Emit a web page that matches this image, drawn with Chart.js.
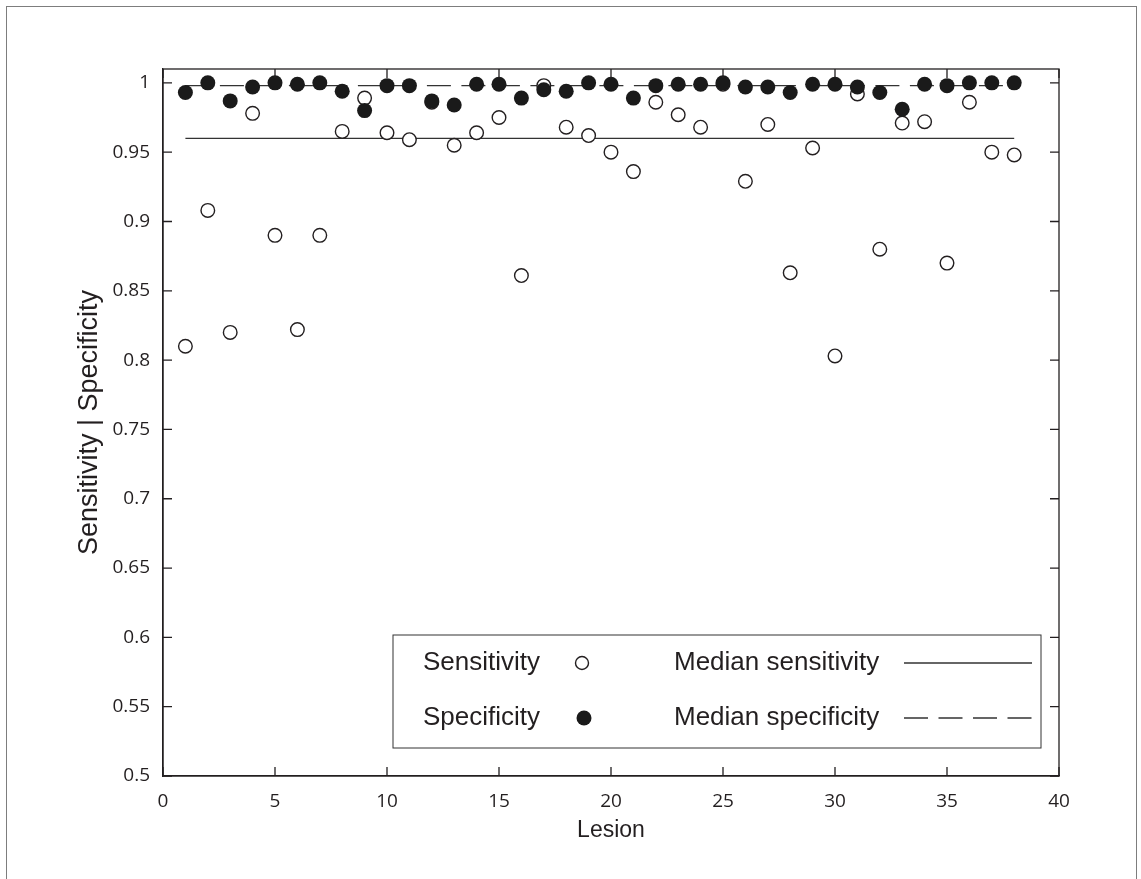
<!DOCTYPE html>
<html>
<head>
<meta charset="utf-8">
<title>Sensitivity and specificity per lesion</title>
<script src="https://cdn.jsdelivr.net/npm/chart.js@4.4.1/dist/chart.umd.min.js"></script>
<style>
  html, body { margin: 0; padding: 0; background: #fff; overflow: hidden; }
  #wrap { position: relative; width: 1141px; height: 879px; }
  #frame { position: absolute; left: 6px; top: 6px; width: 1131px; height: 900px;
           border: 1.5px solid #7d7d7d; box-sizing: border-box; pointer-events: none; }
</style>
</head>
<body>
<div id="wrap">
  <canvas id="lesionChart"></canvas>
  <div id="frame"></div>
</div>
<script>
// values
const lesions = [1, 2, 3, 4, 5, 6, 7, 8, 9, 10, 11, 12, 13, 14, 15, 16, 17, 18, 19,
                 20, 21, 22, 23, 24, 25, 26, 27, 28, 29, 30, 31, 32, 33, 34, 35, 36, 37, 38];
const sensitivity = [0.810, 0.908, 0.820, 0.978, 0.890, 0.822, 0.890, 0.965, 0.989, 0.964,
                     0.959, 0.986, 0.955, 0.964, 0.975, 0.861, 0.998, 0.968, 0.962, 0.950,
                     0.936, 0.986, 0.977, 0.968, 0.999, 0.929, 0.970, 0.863, 0.953, 0.803,
                     0.992, 0.880, 0.971, 0.972, 0.870, 0.986, 0.950, 0.948];
const specificity = [0.993, 1.000, 0.987, 0.997, 1.000, 0.999, 1.000, 0.994, 0.980, 0.998,
                     0.998, 0.987, 0.984, 0.999, 0.999, 0.989, 0.995, 0.994, 1.000, 0.999,
                     0.989, 0.998, 0.999, 0.999, 1.000, 0.997, 0.997, 0.993, 0.999, 0.999,
                     0.997, 0.993, 0.981, 0.999, 0.998, 1.000, 1.000, 1.000];
const medianSensitivity = 0.96;
const medianSpecificity = 0.998;
const xTicks = [0, 5, 10, 15, 20, 25, 30, 35, 40];
const yTicks = [0.5, 0.55, 0.6, 0.65, 0.7, 0.75, 0.8, 0.85, 0.9, 0.95, 1];
const legendLabels = ['Sensitivity', 'Specificity', 'Median sensitivity', 'Median specificity'];

const ink = '#231f20';
const dash = [24, 10.5];
const textFont = '"Liberation Sans", Arial, sans-serif';

function toPoints(xs, ys) {
    return xs.map((x, i) => ({ x: x, y: ys[i] }));
}

function medianLine(v) {
    return [{ x: lesions[0], y: v }, { x: lesions[lesions.length - 1], y: v }];
}

// box around the plot, inward ticks on all four sides, and the boxed legend
const plotFrame = {
    id: 'plotFrame',
    afterDraw(chart) {
        const ctx = chart.ctx;
        const a = chart.chartArea;
        const xs = chart.scales.x, ys = chart.scales.y;
        ctx.save();
        ctx.strokeStyle = ink;
        ctx.lineWidth = 1.3;
        ctx.strokeRect(a.left, a.top, a.right - a.left, a.bottom - a.top);

        const tl = 9;
        ctx.beginPath();
        xTicks.forEach(v => {
            const px = xs.getPixelForValue(v);
            ctx.moveTo(px, a.bottom); ctx.lineTo(px, a.bottom - tl);
            ctx.moveTo(px, a.top); ctx.lineTo(px, a.top + tl);
        });
        yTicks.forEach(v => {
            const py = ys.getPixelForValue(v);
            ctx.moveTo(a.left, py); ctx.lineTo(a.left + tl, py);
            ctx.moveTo(a.right, py); ctx.lineTo(a.right - tl, py);
        });
        ctx.stroke();

        // legend
        const bx = a.left + 230, by = a.top + 566, bw = 648, bh = 113;
        ctx.fillStyle = '#fff';
        ctx.fillRect(bx, by, bw, bh);
        ctx.lineWidth = 1;
        ctx.strokeStyle = '#333';
        ctx.strokeRect(bx, by, bw, bh);

        const row1 = by + 28, row2 = by + 83;
        ctx.fillStyle = ink;
        ctx.font = '26px ' + textFont;
        ctx.textBaseline = 'middle';
        ctx.textAlign = 'left';
        ctx.fillText(legendLabels[0], bx + 30, row1);
        ctx.fillText(legendLabels[1], bx + 30, row2);
        ctx.fillText(legendLabels[2], bx + 281, row1);
        ctx.fillText(legendLabels[3], bx + 281, row2);

        // markers
        ctx.beginPath();
        ctx.arc(bx + 189, row1, 6.5, 0, Math.PI * 2);
        ctx.fillStyle = '#fff';
        ctx.fill();
        ctx.lineWidth = 1.4;
        ctx.strokeStyle = ink;
        ctx.stroke();
        ctx.beginPath();
        ctx.arc(bx + 191, row2, 7.5, 0, Math.PI * 2);
        ctx.fillStyle = '#1a1a1a';
        ctx.fill();

        // line samples
        ctx.lineWidth = 1.3;
        ctx.strokeStyle = '#333';
        ctx.beginPath();
        ctx.moveTo(bx + 511, row1); ctx.lineTo(bx + 639, row1);
        ctx.stroke();
        ctx.setLineDash(dash);
        ctx.beginPath();
        ctx.moveTo(bx + 511, row2); ctx.lineTo(bx + 639, row2);
        ctx.stroke();
        ctx.restore();
    }
};

const ctx = document.getElementById('lesionChart').getContext('2d');
const lesionChart = new Chart(ctx, {
    type: 'scatter',
    data: {
        datasets: [
            {
                label: legendLabels[1],
                data: toPoints(lesions, specificity),
                pointRadius: 7.5,
                pointBackgroundColor: '#1a1a1a',
                pointBorderWidth: 0,
                order: 0
            },
            {
                label: legendLabels[0],
                data: toPoints(lesions, sensitivity),
                pointRadius: 6.8,
                pointBackgroundColor: '#fff',
                pointBorderColor: ink,
                pointBorderWidth: 1.4,
                order: 1
            },
            {
                label: legendLabels[2],
                data: medianLine(medianSensitivity),
                showLine: true,
                pointRadius: 0,
                borderColor: '#333',
                borderWidth: 1.3,
                order: 2
            },
            {
                label: legendLabels[3],
                data: medianLine(medianSpecificity),
                showLine: true,
                pointRadius: 0,
                borderColor: '#333',
                borderWidth: 1.3,
                borderDash: dash,
                order: 3
            }
        ]
    },
    options: {
        responsive: true,
        maintainAspectRatio: false,
        animation: false,
        layout: { padding: { left: 0, top: 69, right: 82, bottom: 0 } },
        plugins: {
            legend: { display: false },
            tooltip: { enabled: false }
        },
        scales: {
            x: {
                type: 'linear',
                min: 0,
                max: 40,
                grid: { display: false },
                border: { display: true, color: ink, width: 1.3 },
                afterBuildTicks: s => { s.ticks = xTicks.map(v => ({ value: v })); },
                afterFit: s => { s.height = 103; },
                ticks: {
                    padding: 6,
                    color: ink,
                    font: { family: '"Open Sans", sans-serif', size: 19 },
                    callback: v => String(v)
                },
                title: {
                    display: true,
                    text: 'Lesion',
                    color: ink,
                    font: { family: textFont, size: 23 },
                    padding: { top: 0, bottom: 35 }
                }
            },
            y: {
                type: 'linear',
                min: 0.5,
                max: 1.01,
                grid: { display: false },
                border: { display: true, color: ink, width: 1.3 },
                afterBuildTicks: s => { s.ticks = yTicks.map(v => ({ value: v })); },
                afterFit: s => { s.width = 163; },
                ticks: {
                    padding: 5,
                    color: ink,
                    font: { family: '"Open Sans", sans-serif', size: 19 },
                    callback: v => String(v)
                },
                title: {
                    display: true,
                    text: 'Sensitivity | Specificity',
                    color: ink,
                    font: { family: textFont, size: 27 },
                    padding: { top: 73, bottom: 0 }
                }
            }
        }
    },
    plugins: [plotFrame]
});
</script>
</body>
</html>
